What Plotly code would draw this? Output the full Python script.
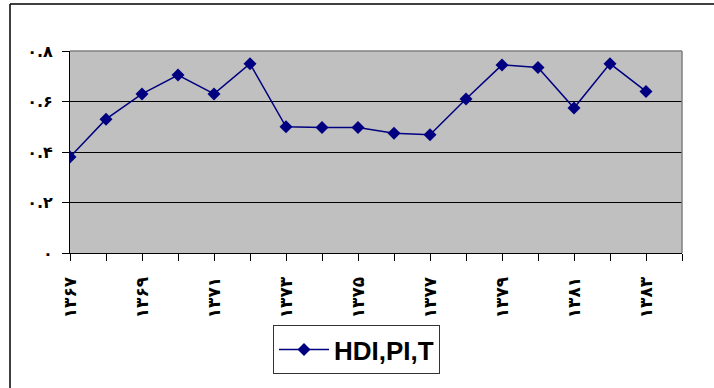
import plotly.graph_objects as go

# Yearly index values (Solar Hijri years)
years = list(range(1367, 1385))
hdi_pi_t = [0.38, 0.53, 0.63, 0.705, 0.63, 0.75, 0.50, 0.497, 0.497, 0.474,
            0.468, 0.61, 0.745, 0.735, 0.574, 0.75, 0.64, None]

y_tick_vals = [0, 0.2, 0.4, 0.6, 0.8]
y_tick_labels = ["۰", "۰.۲", "۰.۴", "۰.۶", "۰.۸"]

persian_digits = str.maketrans("0123456789", "۰۱۲۳۴۵۶۷۸۹")
x_tick_labels = [str(y).translate(persian_digits) if (y - years[0]) % 2 == 0 else ""
                 for y in years]

W, H = 714, 388
L, R, T, B = 70, 32, 51, 135
pw, ph = W - L - R, H - T - B


def px(x):
    return (x - L) / pw


def py(y):
    return (H - B - y) / ph


navy = "#000080"

fig = go.Figure()
fig.add_trace(go.Scatter(
    x=years, y=hdi_pi_t, mode="lines+markers", name="HDI,PI,T",
    line=dict(color=navy, width=1.5),
    marker=dict(symbol="diamond", size=10, color=navy),
    connectgaps=False,
))

fig.update_layout(
    width=W, height=H,
    margin=dict(l=L, r=R, t=T, b=B),
    paper_bgcolor="white",
    plot_bgcolor="#c0c0c0",
    showlegend=True,
    legend=dict(
        x=px(273), y=py(325), xanchor="left", yanchor="top",
        bordercolor="#333333", borderwidth=1, bgcolor="white",
        font=dict(family="Liberation Sans", size=26, color="black", weight="bold"),
        itemwidth=50,
    ),
    xaxis=dict(
        range=[years[0], years[-1]],
        tickmode="array", tickvals=years, ticktext=x_tick_labels,
        tickangle=-90,
        ticks="outside", ticklen=7, tickcolor="black", tickwidth=1,
        showline=True, linecolor="black", linewidth=1,
        showgrid=False, zeroline=False,
        tickfont=dict(family="DejaVu Sans", size=17, color="black", weight="bold"),
        ticklabelstandoff=9,
    ),
    yaxis=dict(
        range=[0, 0.8],
        tickmode="array", tickvals=y_tick_vals, ticktext=y_tick_labels,
        ticks="outside", ticklen=7, tickcolor="black", tickwidth=1,
        showline=True, linecolor="black", linewidth=1,
        showgrid=True, gridcolor="black", gridwidth=1,
        zeroline=False,
        tickfont=dict(family="DejaVu Sans", size=16, color="black", weight="bold"),
        ticklabelstandoff=6,
    ),
    shapes=[
        # plot-area border on top and right
        dict(type="line", xref="paper", yref="paper", x0=0, x1=1, y0=1, y1=1,
             line=dict(color="#808080", width=1.5)),
        dict(type="line", xref="paper", yref="paper", x0=1, x1=1, y0=0, y1=1,
             line=dict(color="#808080", width=1.5)),
        # outer chart frame
        dict(type="line", xref="paper", yref="paper",
             x0=px(10), x1=px(W + 20), y0=py(4), y1=py(4),
             line=dict(color="black", width=1.5)),
        dict(type="line", xref="paper", yref="paper",
             x0=px(10), x1=px(10), y0=py(4), y1=py(H + 20),
             line=dict(color="black", width=1.5)),
    ],
)

fig.write_html("out.html")
